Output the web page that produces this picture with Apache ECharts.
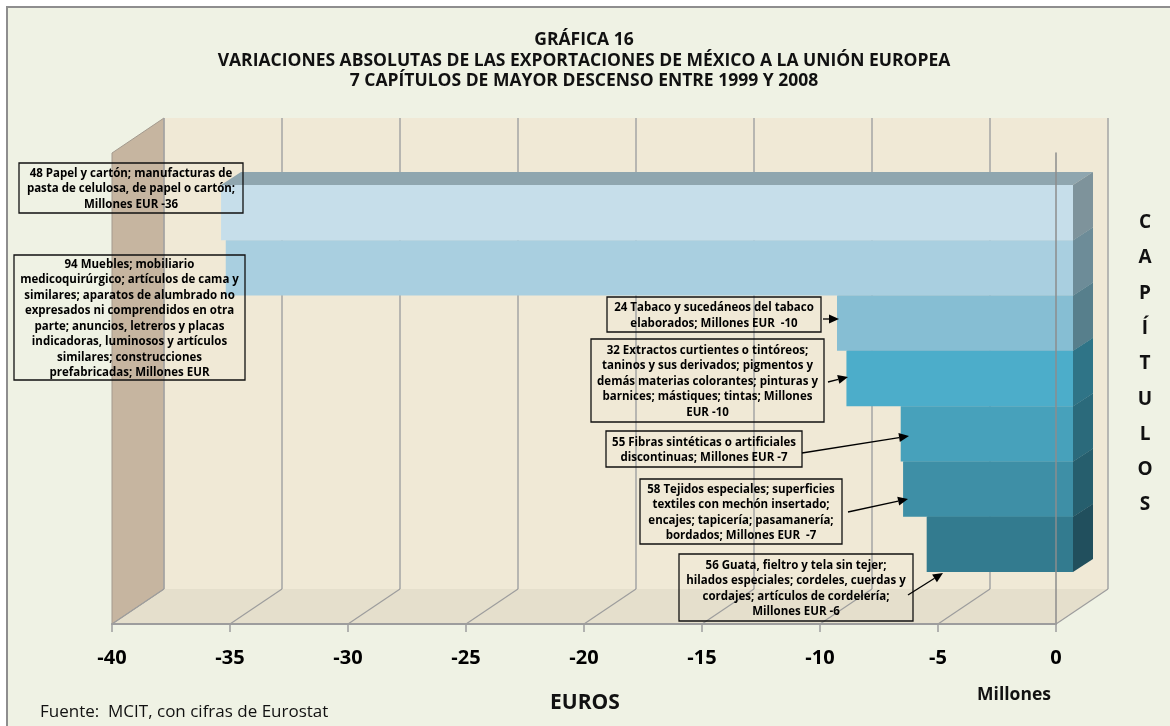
<!DOCTYPE html>
<html>
<head>
<meta charset="utf-8">
<script src="https://cdn.jsdelivr.net/npm/echarts@6/dist/echarts.min.js"></script>
<style>
  html, body { margin: 0; padding: 0; background: #fff; }
  #main { width: 1170px; height: 726px; }
</style>
</head>
<body>
<div id="main"></div>
<script>
// datos
const categories = ["48 Papel y cartón", "94 Muebles", "24 Tabaco", "32 Extractos curtientes", "55 Fibras sintéticas", "58 Tejidos especiales", "56 Guata, fieltro"];
const values = [-36.1, -35.9, -10.0, -9.6, -7.3, -7.2, -6.2];
const tickValues = [-40, -35, -30, -25, -20, -15, -10, -5, 0];

const boxTexts = [
  "48 Papel y cartón; manufacturas de\npasta de celulosa, de papel o cartón;\nMillones EUR -36",
  "94 Muebles; mobiliario\nmedicoquirúrgico; artículos de cama y\nsimilares; aparatos de alumbrado no\nexpresados ni comprendidos en otra\nparte; anuncios, letreros y placas\nindicadoras, luminosos y artículos\nsimilares; construcciones\nprefabricadas; Millones EUR",
  "24 Tabaco y sucedáneos del tabaco\nelaborados; Millones EUR  -10",
  "32 Extractos curtientes o tintóreos;\ntaninos y sus derivados; pigmentos y\ndemás materias colorantes; pinturas y\nbarnices; mástiques; tintas; Millones\nEUR -10",
  "55 Fibras sintéticas o artificiales\ndiscontinuas; Millones EUR -7",
  "58 Tejidos especiales; superficies\ntextiles con mechón insertado;\nencajes; tapicería; pasamanería;\nbordados; Millones EUR  -7",
  "56 Guata, fieltro y tela sin tejer;\nhilados especiales; cordeles, cuerdas y\ncordajes; artículos de cordelería;\nMillones EUR -6"
];
// cajas de texto [x, y, ancho, alto]
const boxRects = [
  [19, 163, 224, 50],
  [14, 255, 231, 125],
  [607, 297, 214, 35],
  [591, 339, 233, 83],
  [606, 431, 196, 36],
  [640, 479, 202, 65],
  [679, 554, 234, 67]
];
// flechas [desde, hasta]
const arrows = [
  [[823, 319], [839, 319]],
  [[828, 382], [848, 377]],
  [[802, 453], [909, 436]],
  [[848, 512], [908, 499]],
  [[908, 595], [943, 573]]
];

const frontColors = ["#c6deea", "#a9cfe0", "#86bed3", "#4cadca", "#47a1bb", "#3e8fa6", "#337b8f"];
const sideColors = ["#7e939b", "#6d8c98", "#577f8c", "#2f7487", "#2b6a7b", "#265e6d", "#214f5d"];
const topColors = ["#8fa6af", "#7fa3b2", "#6b9fb2", "#3d8ea8", "#3a8399", "#337488", "#2a6575"];

const FONT = "'Open Sans'";
// profundidad del 3D
const DX = 52, DY = 35;
const BAR_DX = 20, BAR_DY = 13;

const chart = echarts.init(document.getElementById("main"));

const renderBar = (params, api) => {
  const idx = api.value(1);
  const v = api.value(0);
  const p0 = api.coord([0, idx]);
  const p1 = api.coord([v, idx]);
  const h = api.size([0, 1])[1];
  const y0 = p0[1] - h / 2, y1 = p0[1] + h / 2;
  const x0 = p1[0], x1 = p0[0];
  const z = (categories.length - idx) * 10;
  return {
    type: "group",
    children: [
      {
        type: "polygon",
        z2: z,
        shape: { points: [[x0, y0], [x0 + BAR_DX, y0 - BAR_DY], [x1 + BAR_DX, y0 - BAR_DY], [x1, y0]] },
        style: { fill: topColors[idx] }
      },
      {
        type: "polygon",
        z2: z + 1,
        shape: { points: [[x1, y0], [x1 + BAR_DX, y0 - BAR_DY], [x1 + BAR_DX, y1 - BAR_DY], [x1, y1]] },
        style: { fill: sideColors[idx] }
      },
      {
        type: "rect",
        z2: z + 2,
        shape: { x: x0, y: y0, width: x1 - x0, height: h },
        style: { fill: frontColors[idx] }
      }
    ]
  };
};

// lineas del piso, de cada marca hacia el fondo
const renderFloor = (params, api) => {
  const p = api.coord([api.value(0), 0]);
  return {
    type: "line",
    shape: { x1: p[0], y1: p[1], x2: p[0] + DX, y2: p[1] - DY },
    style: { stroke: "#9d9d9d", lineWidth: 1.2 }
  };
};

const boxGraphics = [];
boxTexts.forEach((t, i) => {
  const r = boxRects[i];
  boxGraphics.push({
    type: "rect",
    z: 20,
    shape: { x: r[0], y: r[1], width: r[2], height: r[3] },
    style: { fill: "rgba(0,0,0,0)", stroke: "#111", lineWidth: 1.3 }
  });
  boxGraphics.push({
    type: "text",
    z: 21,
    x: r[0] + r[2] / 2,
    y: r[1] + r[3] / 2 + 1,
    style: {
      text: t,
      fill: "#000",
      font: "bold 11.5px " + FONT,
      lineHeight: 15.5,
      align: "center",
      verticalAlign: "middle"
    }
  });
});

// flechas con punta
const arrowGraphics = [];
arrows.forEach((a) => {
  const [p, q] = a;
  const ang = Math.atan2(q[1] - p[1], q[0] - p[0]);
  const L = 10, W = 4.5;
  const bx = q[0] - L * Math.cos(ang), by = q[1] - L * Math.sin(ang);
  arrowGraphics.push({
    type: "line",
    z: 22,
    shape: { x1: p[0], y1: p[1], x2: bx, y2: by },
    style: { stroke: "#000", lineWidth: 1.3 }
  });
  arrowGraphics.push({
    type: "polygon",
    z: 22,
    shape: {
      points: [
        q,
        [bx + W * Math.sin(ang), by - W * Math.cos(ang)],
        [bx - W * Math.sin(ang), by + W * Math.cos(ang)]
      ]
    },
    style: { fill: "#000" }
  });
});

const option = {
  backgroundColor: "#ffffff",
  animation: false,
  textStyle: { fontFamily: FONT },
  grid: [
    { left: 112, top: 153, width: 944, height: 471 }, // plano frontal
    { left: 164, top: 118, width: 944, height: 471 }, // pared del fondo
    { left: 129, top: 185, width: 944, height: 387 } // barras
  ],
  xAxis: [
    {
      gridIndex: 0,
      type: "value",
      min: -40,
      max: 0,
      interval: 5,
      z: 6,
      axisLine: { show: true, lineStyle: { color: "#9d9d9d", width: 2 } },
      axisTick: { show: true, length: 8, lineStyle: { color: "#9d9d9d", width: 1.5 } },
      axisLabel: { color: "#000", fontSize: 20, fontWeight: "bold", fontFamily: FONT, margin: 24 },
      splitLine: { show: false }
    },
    {
      gridIndex: 1,
      type: "value",
      min: -40,
      max: 0,
      interval: 5,
      z: 1,
      axisLine: { show: false },
      axisTick: { show: false },
      axisLabel: { show: false },
      splitLine: { show: true, lineStyle: { color: "#a5a5a5", width: 1.5 } }
    },
    {
      gridIndex: 2,
      type: "value",
      min: -40,
      max: 0,
      show: false
    }
  ],
  yAxis: [
    {
      gridIndex: 0,
      type: "value",
      min: 0,
      max: 1,
      position: "right",
      z: 6,
      axisLine: { show: true, lineStyle: { color: "#8c8c8c", width: 1.5 } },
      axisTick: { show: false },
      axisLabel: { show: false },
      splitLine: { show: false }
    },
    {
      gridIndex: 1,
      type: "value",
      min: 0,
      max: 1,
      show: false,
      splitLine: { show: false }
    },
    {
      gridIndex: 2,
      type: "category",
      data: categories,
      inverse: true,
      show: false
    }
  ],
  graphic: [
    {
      type: "rect",
      z: -10,
      shape: { x: 7, y: 7, width: 1200, height: 760 },
      style: { fill: "#eff2e4", stroke: "#8e8e8e", lineWidth: 2 }
    },
    {
      type: "rect",
      z: -9,
      shape: { x: 164, y: 118, width: 944, height: 471 },
      style: { fill: "#f0e9d6" }
    },
    {
      type: "polygon",
      z: -8,
      shape: { points: [[112, 624], [1056, 624], [1108, 589], [164, 589]] },
      style: { fill: "#e5dfcc" }
    },
    {
      type: "polygon",
      z: -8,
      shape: { points: [[112, 153], [164, 118], [164, 589], [112, 624]] },
      style: { fill: "#c6b5a0", stroke: "#a39a8e", lineWidth: 1 }
    },
    {
      type: "text",
      x: 584,
      y: 30,
      z: 20,
      style: {
        text: "GRÁFICA 16\nVARIACIONES ABSOLUTAS DE LAS EXPORTACIONES DE MÉXICO A LA UNIÓN EUROPEA\n7 CAPÍTULOS DE MAYOR DESCENSO ENTRE 1999 Y 2008",
        font: "bold 17.5px " + FONT,
        fill: "#111",
        lineHeight: 20.5,
        align: "center"
      }
    },
    {
      type: "text",
      x: 1145,
      y: 205,
      z: 20,
      style: {
        text: "C\nA\nP\nÍ\nT\nU\nL\nO\nS",
        font: "bold 19px " + FONT,
        fill: "#111",
        lineHeight: 35.3,
        align: "center"
      }
    },
    {
      type: "text",
      x: 585,
      y: 703,
      z: 20,
      style: { text: "EUROS", font: "bold 21px " + FONT, fill: "#111", align: "center", verticalAlign: "middle" }
    },
    {
      type: "text",
      x: 1014,
      y: 695,
      z: 20,
      style: { text: "Millones", font: "bold 17.5px " + FONT, fill: "#111", align: "center", verticalAlign: "middle" }
    },
    {
      type: "text",
      x: 40,
      y: 712,
      z: 20,
      style: { text: "Fuente:  MCIT, con cifras de Eurostat", font: "17px " + FONT, fill: "#111", align: "left", verticalAlign: "middle" }
    }
  ].concat(boxGraphics, arrowGraphics),
  series: [
    {
      type: "custom",
      name: "piso",
      xAxisIndex: 0,
      yAxisIndex: 0,
      z: 1,
      silent: true,
      data: tickValues,
      encode: { x: 0 },
      renderItem: renderFloor
    },
    {
      type: "custom",
      name: "barras",
      xAxisIndex: 2,
      yAxisIndex: 2,
      z: 3,
      data: values.map((v, i) => [v, i]),
      encode: { x: 0, y: 1 },
      renderItem: renderBar
    }
  ]
};

chart.setOption(option);
</script>
</body>
</html>
